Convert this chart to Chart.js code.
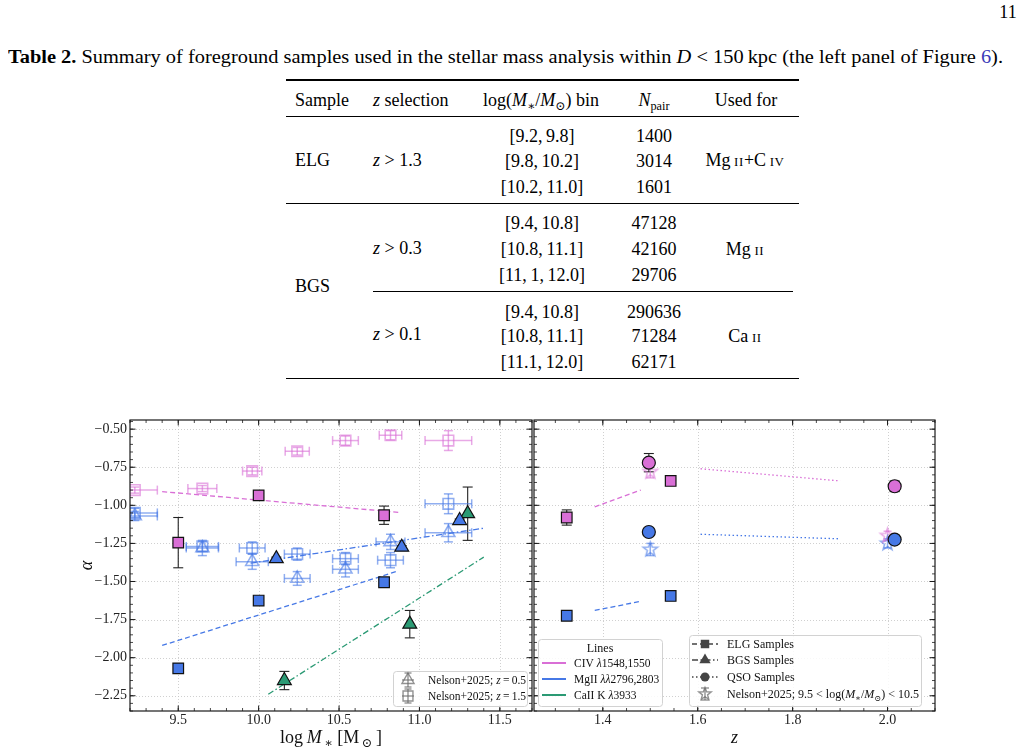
<!DOCTYPE html>
<html>
<head>
<meta charset="utf-8">
<title>Table 2 and Figure 6</title>
<script src="https://cdn.jsdelivr.net/npm/chart.js@4.4.1/dist/chart.umd.min.js"></script>
<style>
  body { margin: 0; width: 1022px; height: 751px; overflow: hidden; position: relative; background: #fff; color: #000;
         font-family: "Liberation Serif", "DejaVu Serif", serif; }
  .t { position: absolute; white-space: nowrap; font-size: 18px; line-height: 1; }
  .c { transform: translate(-50%, -50%); }
  .l { transform: translateY(-50%); }
  .rule { position: absolute; background: #000; }
  .sc { font-size: 0.72em; letter-spacing: 0.6px; }
  sub { font-size: 0.68em; vertical-align: -0.3em; line-height: 0; }
  canvas { position: absolute; top: 400px; }
</style>
</head>
<body>
<div class="t c" style="left:1008px;top:12px">11</div>
<div class="t" id="caption" data-w="995" style="left:8px;top:48px"><b>Table 2.</b> Summary of foreground samples used in the stellar mass analysis within <i>D</i> &lt; 150&#8201;kpc (the left panel of Figure <span style="color:#3b3bb8">6</span>).</div>

<div class="rule" style="left:286px;top:79px;width:513px;height:1.5px"></div>
<div class="t l" style="left:295px;top:100px">Sample</div>
<div class="t l" style="left:373px;top:100px"><i>z</i> selection</div>
<div class="t c" style="left:541px;top:100px">log(<i>M</i><sub>∗</sub>/<i>M</i><sub>⊙</sub>) bin</div>
<div class="t c" style="left:654px;top:100px"><i>N</i><sub>pair</sub></div>
<div class="t c" style="left:746px;top:100px">Used for</div>
<div class="rule" style="left:286px;top:116px;width:513px;height:1px"></div>

<div class="t l" style="left:295px;top:160px">ELG</div>
<div class="t l" style="left:373px;top:160px"><i>z</i> &gt; 1.3</div>
<div class="t c" style="left:542px;top:136px">[9.2,&#8201;9.8]</div>
<div class="t c" style="left:542px;top:161px">[9.8,&#8201;10.2]</div>
<div class="t c" style="left:542px;top:187px">[10.2,&#8201;11.0]</div>
<div class="t c" style="left:654px;top:136px">1400</div>
<div class="t c" style="left:654px;top:161px">3014</div>
<div class="t c" style="left:654px;top:187px">1601</div>
<div class="t c" style="left:745px;top:160px">Mg&#8201;<span class="sc">II</span>+C&#8201;<span class="sc">IV</span></div>
<div class="rule" style="left:286px;top:203px;width:513px;height:1px"></div>

<div class="t l" style="left:295px;top:286px">BGS</div>
<div class="t l" style="left:373px;top:248px"><i>z</i> &gt; 0.3</div>
<div class="t c" style="left:542px;top:223px">[9.4,&#8201;10.8]</div>
<div class="t c" style="left:542px;top:249px">[10.8,&#8201;11.1]</div>
<div class="t c" style="left:542px;top:275px">[11,&#8201;1,&#8201;12.0]</div>
<div class="t c" style="left:654px;top:223px">47128</div>
<div class="t c" style="left:654px;top:249px">42160</div>
<div class="t c" style="left:654px;top:275px">29706</div>
<div class="t c" style="left:745px;top:249px">Mg&#8201;<span class="sc">II</span></div>
<div class="rule" style="left:373px;top:291px;width:420px;height:1px"></div>

<div class="t l" style="left:373px;top:334px"><i>z</i> &gt; 0.1</div>
<div class="t c" style="left:542px;top:312px">[9.4,&#8201;10.8]</div>
<div class="t c" style="left:542px;top:336px">[10.8,&#8201;11.1]</div>
<div class="t c" style="left:542px;top:362px">[11.1,&#8201;12.0]</div>
<div class="t c" style="left:654px;top:312px">290636</div>
<div class="t c" style="left:654px;top:336px">71284</div>
<div class="t c" style="left:654px;top:362px">62171</div>
<div class="t c" style="left:745px;top:336px">Ca&#8201;<span class="sc">II</span></div>
<div class="rule" style="left:286px;top:377.5px;width:513px;height:1.5px"></div>

<canvas id="massChart" width="533" height="351" style="left:0"></canvas>
<canvas id="zChart" width="489" height="351" style="left:533px"></canvas>

<script>
// ---------------- data ----------------
const massTicks = [9.5, 10.0, 10.5, 11.0, 11.5];
const zTicks = [1.4, 1.6, 1.8, 2.0];
const alphaTicks = [-2.25, -2.0, -1.75, -1.5, -1.25, -1.0, -0.75, -0.5];

// ELG samples (squares), left panel
const elgMass = [9.5, 10.0, 10.78];
const elgCivAlpha = [-1.245, -0.935, -1.065];
const elgCivErr = [0.165, 0.012, 0.06];
const elgMgiiAlpha = [-2.07, -1.625, -1.505];
const elgMgiiErr = [0.01, 0.01, 0.01];

// BGS samples (triangles), left panel
const bgsMgiiMass = [10.11, 10.89, 11.25];
const bgsMgiiAlpha = [-1.35, -1.275, -1.10];
const bgsMgiiErr = [0.01, 0.01, 0.01];
const bgsCaiiMass = [10.16, 10.94, 11.30];
const bgsCaiiAlpha = [-2.15, -1.78, -1.055];
const bgsCaiiErr = [0.06, 0.09, 0.175];

// Nelson+2025 comparison, left panel
const nelsonMass = [9.23, 9.65, 9.96, 10.24, 10.54, 10.82, 11.18];
const nelsonZ15CivAlpha = [-0.90, -0.89, -0.775, -0.645, -0.575, -0.54, -0.575];
const nelsonZ15CivXErr = [0.14, 0.09, 0.06, 0.075, 0.08, 0.07, 0.145];
const nelsonZ15CivYErr = [0.02, 0.02, 0.025, 0.025, 0.03, 0.03, 0.065];
const nelsonZ15MgiiAlpha = [-1.05, -1.27, -1.28, -1.32, -1.35, -1.36, -0.99];
const nelsonZ15MgiiXErr = [0.14, 0.1, 0.08, 0.08, 0.08, 0.08, 0.145];
const nelsonZ15MgiiYErr = [0.03, 0.03, 0.04, 0.04, 0.04, 0.05, 0.065];
const nelsonZ05MgiiAlpha = [-1.07, -1.28, -1.37, -1.48, -1.42, -1.24, -1.18];
const nelsonZ05MgiiXErr = [0.14, 0.1, 0.1, 0.08, 0.08, 0.09, 0.145];
const nelsonZ05MgiiYErr = [0.03, 0.05, 0.05, 0.045, 0.05, 0.05, 0.06];

// fitted relations, left panel
const fitElgMass = [9.4, 10.87];
const fitElgCiv = [-0.91, -1.046];
const fitElgMgii = [-1.92, -1.43];
const fitBgsMgiiMass = [9.95, 11.4];
const fitBgsMgii = [-1.38, -1.15];
const fitBgsCaiiMass = [10.06, 11.4];
const fitBgsCaii = [-2.24, -1.34];

// right panel: redshift
const elgZ = [1.324, 1.543];
const elgZCivAlpha = [-1.08, -0.84];
const elgZCivErr = [0.05, 0.015];
const elgZMgiiAlpha = [-1.725, -1.595];
const elgZMgiiErr = [0.01, 0.01];
const qsoZ = [1.497, 2.015];
const qsoCivAlpha = [-0.72, -0.875];
const qsoCivErr = [0.06, 0.035];
const qsoMgiiAlpha = [-1.175, -1.225];
const qsoMgiiErr = [0.02, 0.02];
const nelsonZ = [1.5, 2.0];
const nelsonZCivAlpha = [-0.78, -1.20];
const nelsonZMgiiAlpha = [-1.29, -1.25];
const nelsonZErr = [0.04, 0.03];
const fitElgZ = [1.383, 1.48];
const fitElgZCiv = [-1.01, -0.90];
const fitElgZMgii = [-1.69, -1.63];
const fitQsoZ = [1.606, 1.90];
const fitQsoZCiv = [-0.76, -0.84];
const fitQsoZMgii = [-1.19, -1.22];

// ---------------- styling helpers ----------------
const SERIF = '"Liberation Serif", "DejaVu Serif", serif';
Chart.defaults.font.family = SERIF;
const MAGENTA = '#d96fd6', BLUE = '#4678e6', GREEN = '#2b9a74';
const rgba = (hex, a) => {
  const n = parseInt(hex.slice(1), 16);
  return `rgba(${n >> 16},${(n >> 8) & 255},${n & 255},${a})`;
};
const pts = (xs, ys) => xs.map((v, i) => ({x: v, y: ys[i]}));
const DASH = [5, 3], DASHDOT = [6, 2.5, 1.5, 2.5], DOT = [1.5, 2.5];

function line(ctx, x1, y1, x2, y2) {
  ctx.beginPath(); ctx.moveTo(x1, y1); ctx.lineTo(x2, y2); ctx.stroke();
}

function starPath(ctx, cx, cy, R) {
  ctx.beginPath();
  for (let k = 0; k < 10; k++) {
    const ang = -Math.PI / 2 + k * Math.PI / 5;
    const rr = k % 2 ? R * 0.42 : R;
    ctx.lineTo(cx + rr * Math.cos(ang), cy + rr * Math.sin(ang));
  }
  ctx.closePath();
}

function starImage(color, R) {
  const c = document.createElement('canvas');
  c.width = c.height = Math.ceil(2 * R + 4);
  const g = c.getContext('2d');
  g.strokeStyle = color; g.lineWidth = 1.6;
  starPath(g, c.width / 2, c.height / 2, R);
  g.stroke();
  return c;
}

function markerPath(ctx, style, x, y, r) {
  ctx.beginPath();
  if (style === 'rect') {
    const s = r * Math.SQRT1_2;
    ctx.rect(x - s, y - s, 2 * s, 2 * s);
  } else if (style === 'triangle') {
    for (let k = 0; k < 3; k++) {
      const a = -Math.PI / 2 + k * 2 * Math.PI / 3;
      ctx.lineTo(x + r * Math.cos(a), y + r * Math.sin(a));
    }
    ctx.closePath();
  } else if (style === 'circle') {
    ctx.arc(x, y, r, 0, Math.PI * 2);
  } else if (style === 'star') {
    starPath(ctx, x, y, r);
  }
}

// text with italic / subscript pieces
function drawRich(ctx, segs, x, y, size, align) {
  let total = 0;
  const parts = segs.map(s => {
    const fs = s.sub ? size * 0.7 : size;
    const font = `${s.i ? 'italic ' : ''}${fs}px ${SERIF}`;
    ctx.font = font;
    const w = ctx.measureText(s.t).width;
    total += w;
    return {s, font, w};
  });
  let cx = align === 'center' ? x - total / 2 : x;
  ctx.textAlign = 'left';
  ctx.textBaseline = 'alphabetic';
  parts.forEach(p => {
    ctx.font = p.font;
    ctx.fillText(p.s.t, cx, y + (p.s.sub ? size * 0.22 : 0));
    cx += p.w;
  });
}

// ---------------- plugins ----------------
const frame = {
  id: 'frame',
  beforeDatasetsDraw(chart, args, o) {
    const {ctx, chartArea: a, scales: {x, y}} = chart;
    ctx.save();
    ctx.strokeStyle = '#c4c4c4'; ctx.lineWidth = 0.8; ctx.setLineDash([1, 2]);
    o.xMajor.forEach(v => { const p = Math.round(x.getPixelForValue(v)) + 0.5; line(ctx, p, a.top, p, a.bottom); });
    o.yMajor.forEach(v => { const p = Math.round(y.getPixelForValue(v)) + 0.5; line(ctx, a.left, p, a.right, p); });
    ctx.restore();
  },
  afterDatasetsDraw(chart, args, o) {
    const {ctx, chartArea: a, scales: {x, y}} = chart;
    ctx.save();
    ctx.strokeStyle = '#1a1a1a';
    const xTick = (v, len) => { const p = x.getPixelForValue(v); line(ctx, p, a.bottom, p, a.bottom - len); line(ctx, p, a.top, p, a.top + len); };
    const yTick = (v, len) => { const p = y.getPixelForValue(v); line(ctx, a.left, p, a.left + len, p); line(ctx, a.right, p, a.right - len, p); };
    ctx.lineWidth = 0.8;
    for (let k = Math.ceil(x.min / o.xMinor - 1e-9); k * o.xMinor <= x.max + 1e-9; k++) xTick(k * o.xMinor, 3);
    for (let k = Math.ceil(y.min / o.yMinor - 1e-9); k * o.yMinor <= y.max + 1e-9; k++) yTick(k * o.yMinor, 3);
    ctx.lineWidth = 1;
    o.xMajor.forEach(v => xTick(v, 5.5));
    o.yMajor.forEach(v => yTick(v, 5.5));
    ctx.lineWidth = 1.2;
    ctx.strokeRect(a.left, a.top, a.right - a.left, a.bottom - a.top);
    ctx.restore();
  }
};

const errorBars = {
  id: 'errorBars',
  beforeDatasetsDraw(chart) {
    const {ctx, chartArea: a, scales: {x, y}} = chart;
    ctx.save();
    ctx.beginPath(); ctx.rect(a.left, a.top, a.right - a.left, a.bottom - a.top); ctx.clip();
    chart.data.datasets.forEach(ds => {
      if (!ds.xErr && !ds.yErr) return;
      ctx.strokeStyle = ds.errColor; ctx.lineWidth = ds.errWidth;
      const cap = ds.capSize;
      ds.data.forEach((p, j) => {
        const px = x.getPixelForValue(p.x), py = y.getPixelForValue(p.y);
        if (ds.yErr) {
          const y1 = y.getPixelForValue(p.y + ds.yErr[j]), y2 = y.getPixelForValue(p.y - ds.yErr[j]);
          line(ctx, px, y1, px, y2);
          line(ctx, px - cap, y1, px + cap, y1); line(ctx, px - cap, y2, px + cap, y2);
        }
        if (ds.xErr) {
          const x1 = x.getPixelForValue(p.x - ds.xErr[j]), x2 = x.getPixelForValue(p.x + ds.xErr[j]);
          line(ctx, x1, py, x2, py);
          line(ctx, x1, py - cap, x1, py + cap); line(ctx, x2, py - cap, x2, py + cap);
        }
      });
    });
    ctx.restore();
  }
};

const axisTitles = {
  id: 'axisTitles',
  afterDraw(chart, args, o) {
    const {ctx, chartArea: a} = chart;
    ctx.save();
    ctx.fillStyle = '#111';
    drawRich(ctx, o.x, (a.left + a.right) / 2, a.bottom + 32, 18, 'center');
    if (o.y) {
      ctx.translate(o.yPos, (a.top + a.bottom) / 2);
      ctx.rotate(-Math.PI / 2);
      drawRich(ctx, o.y, 0, 6, 18, 'center');
    }
    ctx.restore();
  }
};

const legendBoxes = {
  id: 'legendBoxes',
  afterDraw(chart, args, o) {
    const {ctx, chartArea: a} = chart;
    o.boxes.forEach(b => {
      const bx = a.left + b.dx, by = a.top + b.dy;
      ctx.save();
      ctx.beginPath();
      ctx.roundRect(bx + 0.5, by + 0.5, b.w, b.h, 3);
      ctx.fillStyle = 'rgba(255,255,255,0.85)'; ctx.fill();
      ctx.strokeStyle = '#d2d2d2'; ctx.lineWidth = 1; ctx.stroke();
      ctx.fillStyle = '#111';
      if (b.title) drawRich(ctx, [{t: b.title}], bx + b.w / 2, by + b.titleY + 4, 12, 'center');
      b.rows.forEach(r => {
        ctx.save(); r.icon(ctx, bx + b.iconX, by + r.y); ctx.restore();
        ctx.fillStyle = '#111';
        drawRich(ctx, r.label, bx + b.textX, by + r.y + 4, b.size);
      });
      ctx.restore();
    });
  }
};

// legend icons
const GRAY = 'rgba(110,110,110,0.75)';
function nelsonIcon(style, r) {
  return (ctx, cx, cy) => {
    ctx.strokeStyle = GRAY; ctx.lineWidth = 1.4;
    line(ctx, cx, cy - 7, cx, cy + 7); line(ctx, cx - 3.5, cy - 7, cx + 3.5, cy - 7); line(ctx, cx - 3.5, cy + 7, cx + 3.5, cy + 7);
    line(ctx, cx - 6, cy, cx + 6, cy);
    markerPath(ctx, style, cx, cy, r); ctx.stroke();
  };
}
function colourLine(color) {
  return (ctx, cx, cy) => { ctx.strokeStyle = color; ctx.lineWidth = 2; line(ctx, cx - 12, cy, cx + 12, cy); };
}
function sampleIcon(dash, style, r) {
  return (ctx, cx, cy) => {
    ctx.strokeStyle = '#444'; ctx.fillStyle = '#444'; ctx.lineWidth = 1.6;
    ctx.setLineDash(dash); line(ctx, cx - 13, cy, cx + 13, cy); ctx.setLineDash([]);
    markerPath(ctx, style, cx, cy, r); ctx.fill();
  };
}
function starIcon(ctx, cx, cy) {
  ctx.strokeStyle = GRAY; ctx.lineWidth = 1.4;
  line(ctx, cx, cy - 6, cx, cy + 6); line(ctx, cx - 4, cy - 6, cx + 4, cy - 6); line(ctx, cx - 4, cy + 6, cx + 4, cy + 6);
  markerPath(ctx, 'star', cx, cy, 6.5); ctx.stroke();
}

// ---------------- dataset builders ----------------
function filled(data, style, color, r, yErr) {
  return {data, pointStyle: style, pointRadius: r, pointHoverRadius: r, backgroundColor: color,
    borderColor: '#111', borderWidth: 1.2, yErr, errColor: '#222', errWidth: 1.1, capSize: 5};
}
function fitLine(xs, ys, color, dash) {
  return {data: pts(xs, ys), showLine: true, borderColor: color, borderWidth: 1.3, borderDash: dash,
    pointRadius: 0, fill: false};
}
function nelson(data, style, color, r, xErr, yErr) {
  const c = rgba(color, 0.6);
  return {data, pointStyle: style, pointRadius: r, pointHoverRadius: r, backgroundColor: 'rgba(0,0,0,0)',
    borderColor: c, borderWidth: 1.6, xErr, yErr, errColor: c, errWidth: 1.5, capSize: 4.5};
}

const tickFont = {family: SERIF, size: 14};
const alphaAxis = (showLabels, width) => ({
  type: 'linear', min: -2.35, max: -0.44,
  afterBuildTicks: s => { s.ticks = alphaTicks.map(v => ({value: v})); },
  afterFit: s => { s.width = width; s.paddingTop = 0; s.paddingBottom = 0; },
  grid: {display: false, drawTicks: false}, border: {display: false},
  ticks: {display: showLabels, font: tickFont, color: '#222', padding: 3,
    callback: v => v.toFixed(2).replace('-', '\u2212')}
});
const xAxis = (min, max, ticks) => ({
  type: 'linear', min, max,
  afterBuildTicks: s => { s.ticks = ticks.map(v => ({value: v})); },
  afterFit: s => { s.height = 40; s.paddingLeft = 0; s.paddingRight = 0; },
  grid: {display: false, drawTicks: false}, border: {display: false},
  ticks: {font: tickFont, color: '#222', padding: 1, maxRotation: 0, autoSkip: false,
    callback: v => v.toFixed(1)}
});

// ---------------- left panel: stellar mass ----------------
new Chart(document.getElementById('massChart'), {
  type: 'scatter',
  data: {datasets: [
    filled(pts(elgMass, elgCivAlpha), 'rect', MAGENTA, 7.5, elgCivErr),
    filled(pts(elgMass, elgMgiiAlpha), 'rect', BLUE, 7.5, elgMgiiErr),
    filled(pts(bgsMgiiMass, bgsMgiiAlpha), 'triangle', BLUE, 8, bgsMgiiErr),
    filled(pts(bgsCaiiMass, bgsCaiiAlpha), 'triangle', GREEN, 8, bgsCaiiErr),
    fitLine(fitElgMass, fitElgCiv, MAGENTA, DASH),
    fitLine(fitElgMass, fitElgMgii, BLUE, DASH),
    fitLine(fitBgsMgiiMass, fitBgsMgii, BLUE, DASHDOT),
    fitLine(fitBgsCaiiMass, fitBgsCaii, GREEN, DASHDOT),
    nelson(pts(nelsonMass, nelsonZ15CivAlpha), 'rect', MAGENTA, 7.5, nelsonZ15CivXErr, nelsonZ15CivYErr),
    nelson(pts(nelsonMass, nelsonZ15MgiiAlpha), 'rect', BLUE, 7.5, nelsonZ15MgiiXErr, nelsonZ15MgiiYErr),
    nelson(pts(nelsonMass, nelsonZ05MgiiAlpha), 'triangle', BLUE, 7.5, nelsonZ05MgiiXErr, nelsonZ05MgiiYErr)
  ]},
  options: {
    responsive: false, animation: false, devicePixelRatio: 1, events: [],
    layout: {autoPadding: false, padding: {left: 70, right: 1, top: 20, bottom: 0}},
    scales: {x: xAxis(9.2, 11.7, massTicks), y: alphaAxis(true, 60)},
    plugins: {
      legend: {display: false}, tooltip: {enabled: false},
      frame: {xMajor: massTicks, xMinor: 0.1, yMajor: alphaTicks, yMinor: 0.05},
      axisTitles: {
        x: [{t: 'log\u2009'}, {t: 'M', i: 1}, {t: '\u2009\u2217', sub: 1}, {t: ' [M'}, {t: '\u2009\u2299', sub: 1}, {t: '\u2009]'}],
        y: [{t: '\u03b1', i: 1}], yPos: 86
      },
      legendBoxes: {boxes: [{
        dx: 263, dy: 251, w: 134, h: 35, iconX: 15, textX: 35, size: 11.5,
        rows: [
          {y: 9, icon: nelsonIcon('triangle', 7), label: [{t: 'Nelson+2025; '}, {t: 'z', i: 1}, {t: '\u2009=\u20090.5'}]},
          {y: 25, icon: nelsonIcon('rect', 7), label: [{t: 'Nelson+2025; '}, {t: 'z', i: 1}, {t: '\u2009=\u20091.5'}]}
        ]
      }]}
    }
  },
  plugins: [frame, errorBars, axisTitles, legendBoxes]
});

// ---------------- right panel: redshift ----------------
new Chart(document.getElementById('zChart'), {
  type: 'scatter',
  data: {datasets: [
    filled(pts(qsoZ, qsoCivAlpha), 'circle', MAGENTA, 6.5, qsoCivErr),
    filled(pts(qsoZ, qsoMgiiAlpha), 'circle', BLUE, 6.5, qsoMgiiErr),
    filled(pts(elgZ, elgZCivAlpha), 'rect', MAGENTA, 7.5, elgZCivErr),
    filled(pts(elgZ, elgZMgiiAlpha), 'rect', BLUE, 7.5, elgZMgiiErr),
    fitLine(fitElgZ, fitElgZCiv, MAGENTA, DASH),
    fitLine(fitElgZ, fitElgZMgii, BLUE, DASH),
    fitLine(fitQsoZ, fitQsoZCiv, MAGENTA, DOT),
    fitLine(fitQsoZ, fitQsoZMgii, BLUE, DOT),
    Object.assign(nelson(pts(nelsonZ, nelsonZCivAlpha), starImage(rgba(MAGENTA, 0.6), 7.5), MAGENTA, 7, null, nelsonZErr), {capSize: 4}),
    Object.assign(nelson(pts(nelsonZ, nelsonZMgiiAlpha), starImage(rgba(BLUE, 0.6), 7.5), BLUE, 7, null, nelsonZErr), {capSize: 4})
  ]},
  options: {
    responsive: false, animation: false, devicePixelRatio: 1, events: [],
    layout: {autoPadding: false, padding: {left: 1, right: 87, top: 20, bottom: 0}},
    scales: {x: xAxis(1.255, 2.1, zTicks), y: alphaAxis(false, 0)},
    plugins: {
      legend: {display: false}, tooltip: {enabled: false},
      frame: {xMajor: zTicks, xMinor: 0.05, yMajor: alphaTicks, yMinor: 0.05},
      axisTitles: {x: [{t: 'z', i: 1}]},
      legendBoxes: {boxes: [
        {dx: 4, dy: 219, w: 124, h: 67, title: 'Lines', titleY: 9, iconX: 16, textX: 36, size: 11.5,
          rows: [
            {y: 24, icon: colourLine(MAGENTA), label: [{t: 'CIV '}, {t: '\u03bb', i: 1}, {t: '1548,1550'}]},
            {y: 40, icon: colourLine(BLUE), label: [{t: 'MgII '}, {t: '\u03bb\u03bb', i: 1}, {t: '2796,2803'}]},
            {y: 56, icon: colourLine(GREEN), label: [{t: 'CaII K '}, {t: '\u03bb', i: 1}, {t: '3933'}]}
          ]},
        {dx: 155, dy: 215, w: 232, h: 71, iconX: 16, textX: 38, size: 12,
          rows: [
            {y: 9, icon: sampleIcon(DASH, 'rect', 6), label: [{t: 'ELG Samples'}]},
            {y: 25, icon: sampleIcon(DASHDOT, 'triangle', 6.5), label: [{t: 'BGS Samples'}]},
            {y: 42, icon: sampleIcon(DOT, 'circle', 4.5), label: [{t: 'QSO Samples'}]},
            {y: 59, icon: starIcon, label: [{t: 'Nelson+2025; 9.5 < log('}, {t: 'M', i: 1}, {t: '\u2217', sub: 1},
              {t: '/'}, {t: 'M', i: 1}, {t: '\u2299', sub: 1}, {t: ') < 10.5'}]}
          ]}
      ]}
    }
  },
  plugins: [frame, errorBars, axisTitles, legendBoxes]
});

// stretch the caption to the printed line length
const cap = document.getElementById('caption');
const w = cap.getBoundingClientRect().width;
cap.style.transformOrigin = 'left top';
cap.style.transform = `scaleX(${cap.dataset.w / w})`;
</script>
</body>
</html>
